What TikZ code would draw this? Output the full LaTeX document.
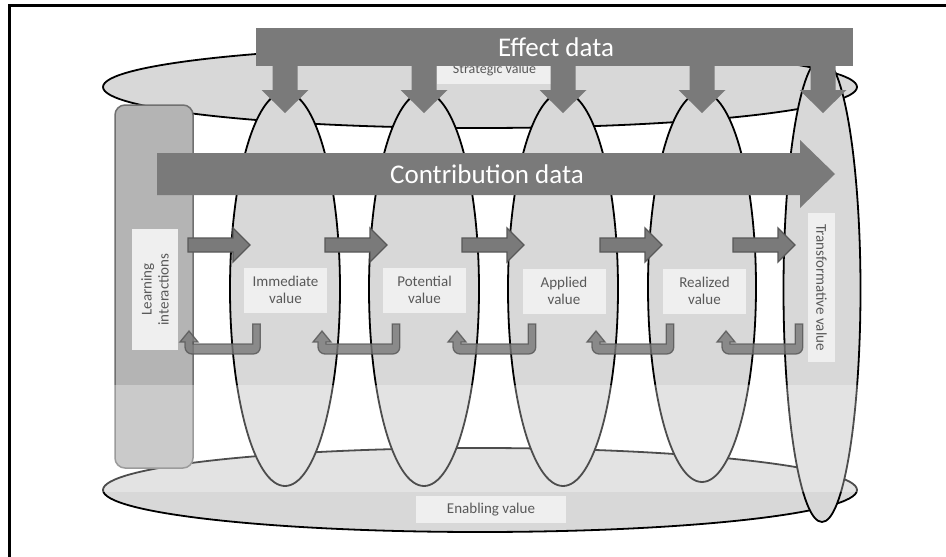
\documentclass[tikz,border=0pt]{standalone}
\usepackage{fontspec}
\setmainfont{Carlito}
\usetikzlibrary{shapes.geometric}
\definecolor{ellfill}{RGB}{216,216,216}
\definecolor{learnfill}{RGB}{180,180,180}
\definecolor{learnline}{RGB}{112,112,112}
\definecolor{labfill}{RGB}{239,239,239}
\definecolor{labtext}{RGB}{89,89,89}
\definecolor{arrfill}{RGB}{122,122,122}
\definecolor{arrline}{RGB}{88,88,88}
\tikzset{
  vell/.style={ellipse, draw=black, line width=1.8pt, fill=ellfill, inner sep=0pt, outer sep=0pt},
  hell/.style={ellipse, draw=black, line width=1.8pt, fill=ellfill, inner sep=0pt, outer sep=0pt, minimum width=754pt},
  lab/.style={fill=labfill, text=labtext, font=\fontsize{15}{17}\selectfont, align=center, inner sep=0pt},
  bigtext/.style={text=white, font=\fontsize{27}{30}\selectfont, inner sep=0pt},
  bigarrow/.style={fill=arrfill},
  smallarrow/.style={fill=arrfill, draw=arrline, line width=1.3pt, line join=miter},
  uturnstyle/.style={fill=arrfill, draw=arrline, line width=1.3pt, opacity=0.82},
}
\begin{document}
\begin{tikzpicture}[x=1pt,y=-1pt]
\useasboundingbox (0,0) rectangle (946,557);
\fill[white] (0,0) rectangle (946,557);
\draw[line width=2.2pt] (9.5,557) -- (9.5,5.5) -- (946,5.5);

% horizontal ellipses
\node[hell, minimum height=82pt] (strat) at (480,87) {};
\node[hell, minimum height=84pt] (enab) at (480,490) {};

% learning interactions box
\node[draw=learnline, fill=learnfill, line width=1.5pt, rounded corners=10pt,
      minimum width=78pt, minimum height=363pt, inner sep=0pt] (learnbox) at (154,286.5) {};

% vertical ellipses
\node[vell, minimum width=110pt, minimum height=394pt] (e1) at (285,289) {};
\node[vell, minimum width=110pt, minimum height=394pt] (e2) at (424,289) {};
\node[vell, minimum width=110pt, minimum height=394pt] (e3) at (563,289) {};
\node[vell, minimum width=108pt, minimum height=390pt] (e4) at (702,287) {};
\node[vell, minimum width=77pt, minimum height=464pt] (e5) at (822,290) {};

% light band
\fill[white, opacity=0.3] (100,385) rectangle (870,492);

% labels
\node[lab, minimum width=83pt, minimum height=45pt] (imm) at (285.5,290) {Immediate\\value};
\node[lab, minimum width=83pt, minimum height=45pt] (pot) at (424.5,290) {Potential\\value};
\node[lab, minimum width=83pt, minimum height=45pt] (app) at (564,291) {Applied\\value};
\node[lab, minimum width=83pt, minimum height=45pt] (rea) at (704.5,291) {Realized\\value};
\node[lab, rotate=90, minimum width=121pt, minimum height=46pt] (learn) at (155,289.5) {Learning\\interactions};
\node[lab, rotate=-90, minimum width=149pt, minimum height=27pt] (trans) at (821.5,287.5) {Transformative value};
\node[lab, minimum width=150pt, minimum height=27pt] (enablab) at (491,509.5) {Enabling value};
\node[lab, minimum width=115pt, minimum height=27pt, font=\fontsize{14}{16}\selectfont] (stratlab) at (494.5,70) {Strategic value};

% effect data bar with down arrows
\fill[bigarrow] (256,28) rectangle (853,66);
\foreach \c in {285,424,563,702,823}{
  \fill[bigarrow] (\c-12.5,65) -- (\c+12.5,65) -- (\c+12.5,90) -- (\c+23.5,90)
     -- (\c,113) -- (\c-23.5,90) -- (\c-12.5,90) -- cycle;
}
\node[bigtext] (effect) at (556,47) {Effect data};

% contribution data arrow
\fill[bigarrow] (157,153) -- (800,153) -- (800,140) -- (835,174) -- (800,208)
   -- (800,195) -- (157,195) -- cycle;
\node[bigtext] (contrib) at (487,174) {Contribution data};

% small forward arrows
\foreach \s in {188,325,462,600,733}{
  \draw[smallarrow] (\s,238) -- (\s+45,238) -- (\s+45,228) -- (\s+62,245)
     -- (\s+45,262) -- (\s+45,252) -- (\s,252) -- cycle;
}

% return (u-turn) arrows
\foreach \S/\H in {256.5/189, 396/322, 532/457, 670/596, 799/726}{
  \draw[uturnstyle] (\S+3.8,324) -- (\S+3.8,347)
     .. controls (\S+3.8,350.9) and (\S+0.7,354) .. (\S-3.2,354)
     -- (\H+3,354)
     .. controls (\H-0.9,354) and (\H-4,350.9) .. (\H-4,347)
     -- (\H-4,342) -- (\H-9,342) -- (\H,331) -- (\H+9,342) -- (\H+4,342)
     -- (\H+4,344) -- (\S-3.8,344) -- (\S-3.8,324) -- cycle;
}
\end{tikzpicture}
\end{document}
